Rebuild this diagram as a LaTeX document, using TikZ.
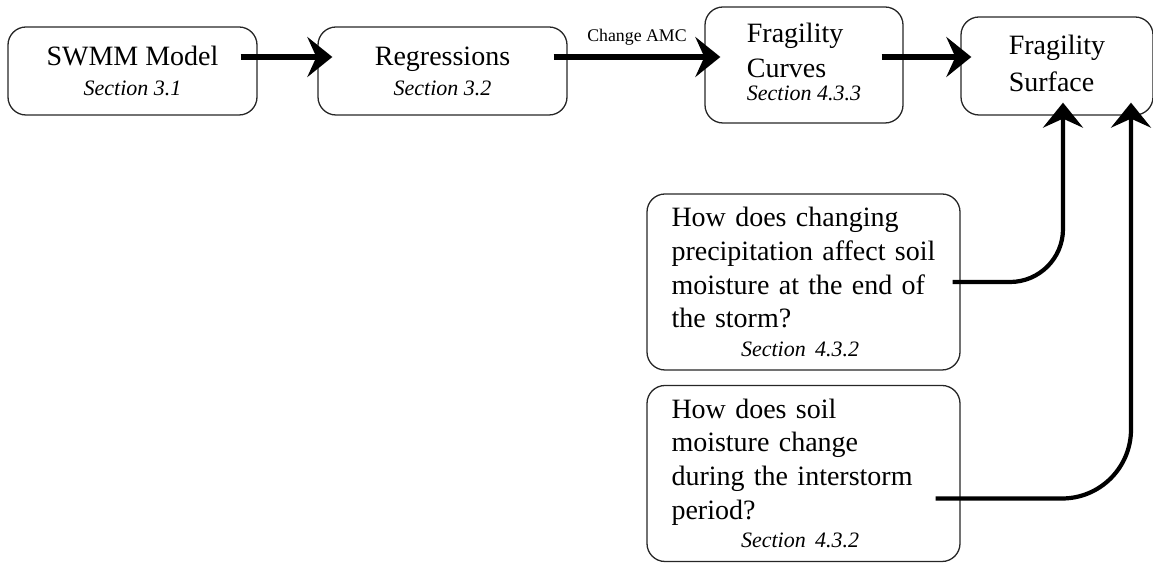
\documentclass[tikz,border=0pt]{standalone}
\usepackage{fontspec}
\setmainfont{Liberation Serif}
\usepackage{tikz}
\usetikzlibrary{arrows.meta}
\newcommand{\sectext}[1]{{\fontsize{11}{13}\selectfont\itshape Section #1}}

\begin{document}
\begin{tikzpicture}[x=0.5pt, y=-0.5pt,
		box/.style={draw=black!85, line width=0.65pt, rounded corners=9pt, inner sep=0pt, font=\fontsize{14}{17.5}\selectfont},
		qbox/.style={box, text width=132pt, align=left, minimum width=156.5pt, minimum height=88pt, font=\fontsize{14}{16.85}\selectfont},
		flow/.style={line width=2.7pt, -{Stealth[length=12.5pt, width=20pt, inset=4.5pt]}}]
	\useasboundingbox (0,0) rectangle (1153,565);
	
	% Top row
	\node[box, align=center, minimum width=124.5pt, minimum height=44pt] (swmm) at (132.5,71) {SWMM Model\\[-2.5pt]\sectext{3.1}};
	\node[box, align=center, minimum width=124.5pt, minimum height=44pt] (regr) at (442.5,71) {Regressions\\[-2.5pt]\sectext{3.2}};
	\node[box, align=left, text depth=3.5pt, minimum width=99pt, minimum height=58pt] (curves) at (804,65) {Fragility\\Curves\\[-6pt]\sectext{4.3.3}};
	\node[box, align=left, text depth=3pt, minimum width=96pt, minimum height=49pt] (surf) at (1057,66) {Fragility\\[1pt]Surface};
	
	% Questions
	\node[qbox] (qa) at (803.5,282) {How does changing\\precipitation affect soil\\moisture at the end of\\the storm?\\[-2.6pt]\hspace*{34.75pt}\sectext{4.3.2}};
	\node[qbox] (qb) at (803.5,473.5) {How does soil\\moisture change\\during the interstorm\\period?\\[-2.6pt]\hspace*{34.75pt}\sectext{4.3.2}};
	
	% Arrows
	\draw[flow] ([xshift=-8.5pt, yshift=7pt]swmm.east) -- ([xshift=7.5pt, yshift=7pt]regr.west);
	\draw[flow] ([xshift=-7pt, yshift=7pt]regr.east) -- node[yshift=9.7pt, font=\fontsize{8.9}{10}\selectfont] {Change AMC} ([xshift=8pt, yshift=4pt]curves.west);
	\draw[flow] ([xshift=-11pt, yshift=4pt]curves.east) -- ([xshift=5.5pt, yshift=4.5pt]surf.west);
	\draw[flow, line width=2.1pt, rounded corners=26.5pt] ([xshift=-4pt]qa.east) -| ([xshift=3pt, yshift=6.5pt]surf.south);
	\draw[flow, line width=2.1pt, rounded corners=34.5pt] ([xshift=-12.5pt, yshift=-12.5pt]qb.east) -| ([xshift=37pt, yshift=6.5pt]surf.south);
\end{tikzpicture}
\end{document}
